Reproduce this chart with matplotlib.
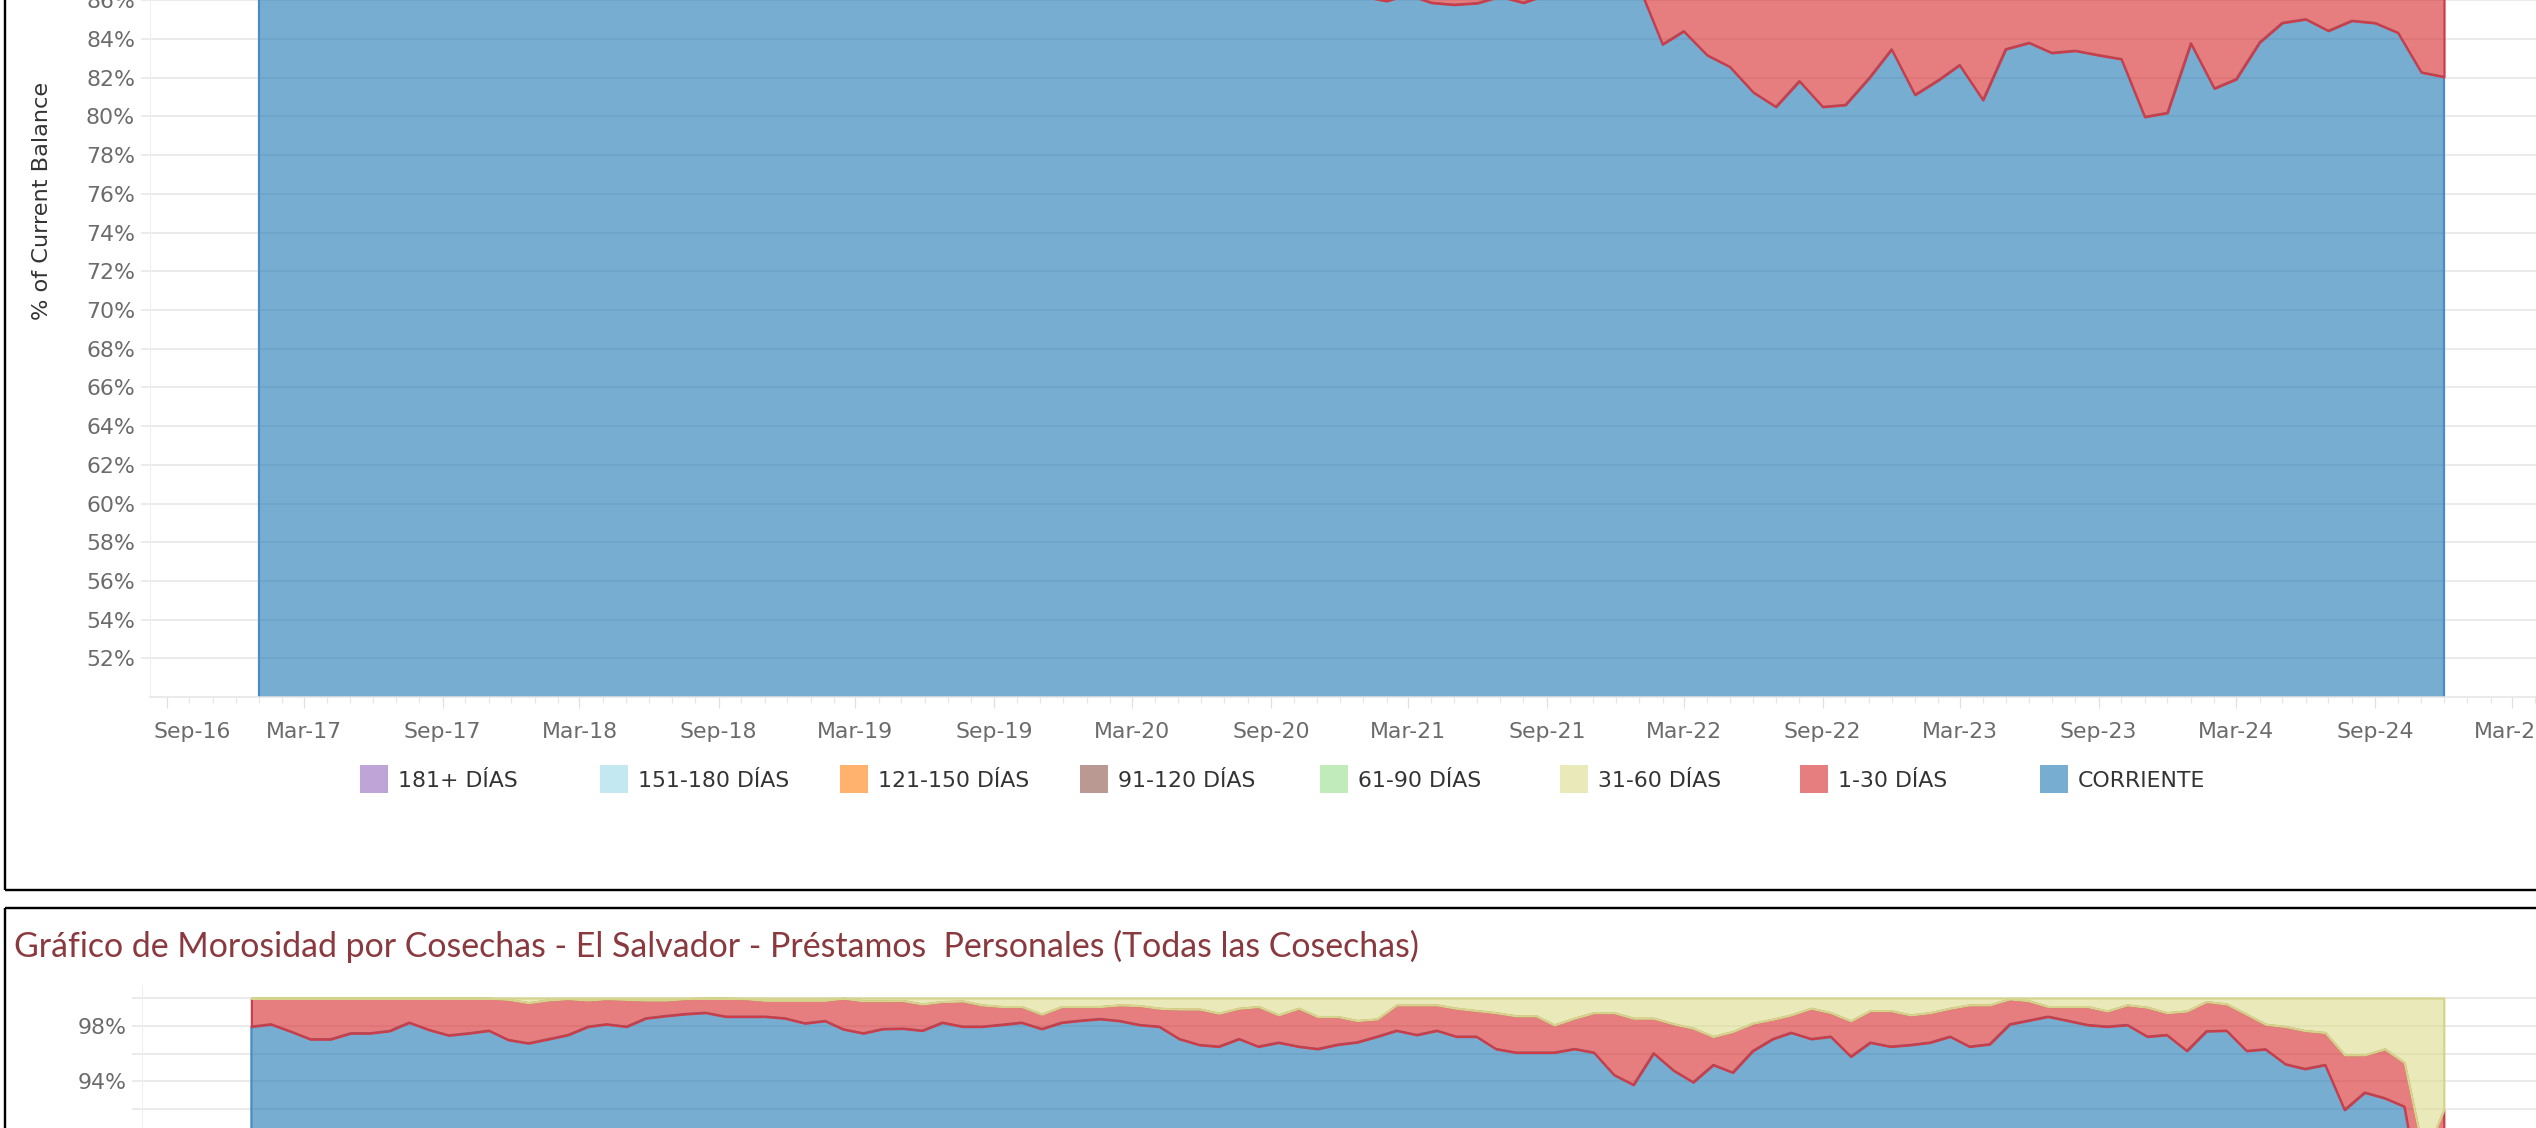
import datetime as dt
import numpy as np
import pandas as pd
import matplotlib
matplotlib.use('Agg')
import matplotlib.pyplot as plt
import matplotlib.dates as mdates
import matplotlib.ticker as mticker
from matplotlib.colors import to_rgb
from matplotlib.lines import Line2D
from matplotlib.patches import Rectangle

# ---------------------------------------------------------------- data
top_months = pd.date_range('2017-01-01', '2024-12-01', freq='MS')
top_corriente = [
    94.5, 94.1, 93.8, 93.2, 93.6, 92.9, 92.4, 92.8, 92.1, 91.6,
    91.9, 91.2, 90.8, 91.3, 90.6, 90.1, 90.5, 89.9, 89.4, 89.8,
    89.2, 88.9, 89.3, 88.7, 88.4, 88.8, 88.2, 87.9, 88.3, 87.7,
    87.4, 87.8, 87.2, 86.9, 87.3, 86.8, 86.6, 87.0, 86.5, 86.3,
    86.7, 86.4, 86.2, 86.6, 86.3, 86.2, 86.5, 86.3, 86.2, 85.97,
    86.3, 85.88, 85.78, 85.86, 86.2, 85.88, 86.3, 86.8, 87.2, 87.5,
    86.7, 83.73, 84.41, 83.17, 82.57, 81.25, 80.50, 81.83, 80.50, 80.60,
    81.97, 83.47, 81.12, 81.88, 82.66, 80.85, 83.48, 83.81, 83.29, 83.40,
    83.17, 82.97, 79.98, 80.19, 83.78, 81.45, 81.93, 83.83, 84.84, 85.03,
    84.43, 84.95, 84.83, 84.33, 82.28, 82.05]
top_1_30 = [
    4.1, 4.3, 4.5, 4.9, 4.6, 5.0, 5.3, 5.1, 5.6, 5.9,
    5.7, 6.1, 6.4, 6.0, 6.5, 6.8, 6.6, 7.0, 7.3, 7.1,
    7.5, 7.7, 7.4, 7.9, 8.1, 7.8, 8.3, 8.5, 8.2, 8.7,
    8.9, 8.6, 9.1, 9.3, 9.0, 9.4, 9.6, 9.3, 9.7, 9.9,
    9.6, 9.8, 10.0, 9.7, 9.9, 10.0, 9.8, 9.9, 10.1, 10.2,
    9.9, 10.3, 10.4, 10.3, 10.0, 10.3, 10.0, 9.7, 9.4, 9.2,
    10.1, 12.9, 12.3, 13.5, 14.0, 15.2, 15.9, 14.7, 15.9, 15.8,
    14.5, 13.1, 15.3, 14.6, 13.8, 15.6, 13.0, 12.7, 13.2, 13.1,
    13.3, 13.5, 16.3, 16.1, 12.8, 15.0, 14.5, 12.7, 11.8, 11.6,
    12.1, 11.6, 11.8, 12.3, 14.2, 14.4]

cos_months = pd.date_range('2015-09-01', '2024-12-01', freq='MS')
cos_corriente = [
    97.94, 98.11, 97.58, 97.03, 97.03, 97.46, 97.46, 97.63, 98.23, 97.70,
    97.31, 97.46, 97.65, 96.98, 96.74, 97.03, 97.34, 97.94, 98.11, 97.94,
    98.54, 98.71, 98.85, 98.94, 98.66, 98.66, 98.66, 98.54, 98.18, 98.35,
    97.75, 97.46, 97.77, 97.80,
    97.65, 98.23, 97.94, 97.94, 98.08, 98.23, 97.77, 98.23, 98.37, 98.49,
    98.35, 98.06, 97.94, 97.05, 96.62, 96.50, 97.05, 96.50, 96.79, 96.50,
    96.33, 96.64, 96.81, 97.22, 97.65, 97.34, 97.65, 97.22, 97.22, 96.33,
    96.07, 96.07, 96.07, 96.33, 96.07, 94.46, 93.74, 96.02, 94.77, 93.93,
    95.18,
    94.63, 96.19, 97.05, 97.50, 97.05, 97.22, 95.78, 96.79, 96.50, 96.62,
    96.79, 97.22, 96.50, 96.67, 98.11, 98.37, 98.66, 98.37, 98.06, 97.94,
    98.06, 97.22, 97.34, 96.19, 97.61, 97.65, 96.19, 96.31, 95.23, 94.89,
    95.18, 91.94, 93.19, 92.78, 92.18, 84.0, 83.5]
# share of balance that is current or at most 30 days past due
cos_hasta_30 = [
    99.98, 99.98, 99.98, 99.98, 99.98, 99.98, 99.98, 99.98, 99.98, 99.98,
    99.98, 99.98, 99.98, 99.90, 99.66, 99.85, 99.95, 99.85, 99.95, 99.90,
    99.85, 99.85, 99.95, 99.98, 99.98, 99.95, 99.83, 99.83, 99.83, 99.83,
    99.98, 99.80, 99.80, 99.81,
    99.57, 99.74, 99.78, 99.50, 99.38, 99.38, 98.83, 99.38, 99.38, 99.38,
    99.50, 99.45, 99.26, 99.20, 99.20, 98.90, 99.26, 99.38, 98.78, 99.26,
    98.66, 98.66, 98.37, 98.49, 99.50, 99.50, 99.50, 99.26, 99.09, 98.94,
    98.71, 98.71, 98.06, 98.54, 98.94, 98.94, 98.54, 98.54, 98.13, 97.82,
    97.22,
    97.58, 98.18, 98.47, 98.78, 99.26, 98.94, 98.35, 99.09, 99.09, 98.78,
    98.94, 99.26, 99.50, 99.50, 99.93, 99.81, 99.38, 99.38, 99.38, 99.06,
    99.50, 99.33, 98.94, 99.06, 99.74, 99.57, 98.83, 98.11, 97.94, 97.65,
    97.51, 95.90, 95.90, 96.33, 95.35, 88.50, 91.94]

bucket_labels = ['181+ DÍAS', '151-180 DÍAS', '121-150 DÍAS', '91-120 DÍAS',
                 '61-90 DÍAS', '31-60 DÍAS', '1-30 DÍAS', 'CORRIENTE']
bucket_colors = ['#9467bd', '#9edae5', '#ff7f0e', '#8c564b',
                 '#98df8a', '#dbdb8d', '#d62728', '#1f77b4']
bucket_edges = {'31-60 DÍAS': '#d4d48c', '1-30 DÍAS': '#cc3d48', 'CORRIENTE': '#4a8bc2'}

top_pct_ticks = list(range(52, 88, 2))          # labelled ticks that fall inside the picture
top_pct_grid_extra = list(range(88, 100, 2))    # gridlines above the crop
cos_pct_major = [98, 94]
cos_pct_minor = [100, 96, 92]

title_text = ('Gráfico de Morosidad por Cosechas - El Salvador - '
              'Préstamos  Personales (Todas las Cosechas)')
ylabel_text = '% of Current Balance'

# ---------------------------------------------------------------- style
W, H, DPI = 2536, 1128, 100
FILL_ALPHA = 0.6
GRID = '#ebebeb'
TICKLAB = '#6b6b6b'
FS = 15.8

plt.rcParams['font.family'] = ['DejaVu Sans']
fig = plt.figure(figsize=(W / DPI, H / DPI), dpi=DPI, facecolor='white')


def fx(px):
    return px / W


def fy(py):
    return 1 - py / H


def pt(px):
    return px * 72 / DPI


def fill(c, a=FILL_ALPHA):
    r, g, b = to_rgb(c)
    return (r, g, b, a)


color_of = dict(zip(bucket_labels, bucket_colors))


def band(ax, x, lo, hi, name):
    ax.fill_between(x, lo, hi, facecolor=fill(color_of[name]),
                    edgecolor=bucket_edges[name], linewidth=pt(2.2),
                    joinstyle='round', zorder=2)


pct_fmt = mticker.FuncFormatter(lambda v, p: f'{v:.0f}%')

# ---------------------------------------------------------------- top chart
x_t = mdates.date2num(top_months.to_pydatetime())
T_L, T_B, PPP_T = 150, 697, 19.35
t_top = T_B - 50 * PPP_T
ax1 = fig.add_axes([fx(T_L), fy(T_B), 1 - fx(T_L), (T_B - t_top) / H])
ax1.set_ylim(50, 100)
px0, px1 = 259, 2444
ppd = (px1 - px0) / (x_t[-1] - x_t[0])
ax1.set_xlim(x_t[0] - (px0 - T_L) / ppd, x_t[-1] + (W - px1) / ppd)

corr_t = np.array(top_corriente)
upto30_t = corr_t + np.array(top_1_30)
band(ax1, x_t, 0, corr_t, 'CORRIENTE')
band(ax1, x_t, corr_t, upto30_t, '1-30 DÍAS')

for s in ['top', 'right']:
    ax1.spines[s].set_visible(False)
ax1.spines['left'].set_color('#eeeeee')
ax1.spines['left'].set_linewidth(pt(1))
ax1.spines['bottom'].set_color('#e4e4e4')
ax1.spines['bottom'].set_linewidth(pt(1.5))
ax1.set_axisbelow(True)
ax1.set_yticks(top_pct_ticks)
ax1.set_yticks(top_pct_grid_extra, minor=True)
ax1.yaxis.set_major_formatter(pct_fmt)
ax1.yaxis.set_minor_formatter(mticker.NullFormatter())
ax1.yaxis.grid(True, which='both', color=GRID, linewidth=pt(2))
ax1.tick_params(axis='y', which='both', length=pt(9), width=pt(2), color=GRID,
                pad=pt(6), labelsize=FS, labelcolor=TICKLAB)

ax1.xaxis.set_major_locator(mdates.MonthLocator(bymonth=[3, 9]))
ax1.xaxis.set_minor_locator(mdates.MonthLocator())
first_tick = mdates.date2num(dt.datetime(2016, 9, 1))


def date_fmt(v, p):
    if abs(v - first_tick) < 1:
        return ''
    return mdates.num2date(v).strftime('%b-%y')


XPAD = 14
ax1.xaxis.set_major_formatter(mticker.FuncFormatter(date_fmt))
ax1.tick_params(axis='x', which='major', length=pt(11), width=pt(1.2),
                color='#e0e0e0', pad=pt(XPAD), labelsize=FS, labelcolor=TICKLAB)
ax1.tick_params(axis='x', which='minor', length=pt(6), width=pt(1.2), color='#e6e6e6')
# first label is nudged right by Tableau so it stays inside the pane
ax1.annotate('Sep-16', xy=(first_tick, 0), xycoords=('data', 'axes fraction'),
             xytext=(25, -(11 + XPAD)), textcoords='offset pixels',
             ha='center', va='top', fontsize=FS, color=TICKLAB)

ax1.set_ylabel(ylabel_text, fontsize=16.2, color='#333333')
ax1.yaxis.label.set_va('center')
ax1.yaxis.set_label_coords((42 - T_L) / (W - T_L), (T_B - 201) / (T_B - t_top))

# legend
for k, (lab, col) in enumerate(zip(bucket_labels, bucket_colors)):
    xl = 360 + 240 * k
    fig.add_artist(Rectangle((fx(xl), fy(793)), 28 / W, 28 / H,
                             transform=fig.transFigure, facecolor=fill(col),
                             edgecolor='none'))
    fig.text(fx(xl + 38), fy(787), lab, fontsize=FS, color='#333333',
             ha='left', va='baseline')

# panel borders
bkw = dict(color='black', linewidth=pt(2.4), transform=fig.transFigure,
           solid_capstyle='butt')
fig.add_artist(Line2D([fx(4.5), fx(4.5)], [fy(-5), fy(889.5)], **bkw))
fig.add_artist(Line2D([fx(4.5), fx(2545)], [fy(889.5), fy(889.5)], **bkw))
fig.add_artist(Line2D([fx(4.5), fx(2545)], [fy(908), fy(908)], **bkw))
fig.add_artist(Line2D([fx(4.5), fx(4.5)], [fy(908), fy(1140)], **bkw))

# ---------------------------------------------------------------- bottom chart
title = fig.text(fx(14), fy(957), title_text, fontsize=21,
                 family=['Lato', 'DejaVu Sans'], color='#8a3a3f',
                 ha='left', va='baseline')
fig.canvas.draw()
tw = title.get_window_extent().width
title.set_fontsize(21 * 1406 / tw)

x_s = mdates.date2num(cos_months.to_pydatetime())
S_L, S_TOP, S_100, PPP_S, S_BOT = 142, 985, 998, 13.875, 1414
ax2 = fig.add_axes([fx(S_L), fy(S_BOT), 1 - fx(S_L), (S_BOT - S_TOP) / H])
ax2.set_ylim(100 - (S_BOT - S_100) / PPP_S, 100 + (S_100 - S_TOP) / PPP_S)
sx0, sx1 = 251.4, 2443.8
ppd2 = (sx1 - sx0) / (x_s[-1] - x_s[0])
ax2.set_xlim(x_s[0] - (sx0 - S_L) / ppd2, x_s[-1] + (W - sx1) / ppd2)

cc = np.array(cos_corriente)
ch = np.array(cos_hasta_30)
band(ax2, x_s, 0, cc, 'CORRIENTE')
band(ax2, x_s, cc, ch, '1-30 DÍAS')
band(ax2, x_s, ch, 100, '31-60 DÍAS')

for s in ['top', 'right', 'bottom']:
    ax2.spines[s].set_visible(False)
ax2.spines['left'].set_color('#eeeeee')
ax2.spines['left'].set_linewidth(pt(1))
ax2.set_axisbelow(True)
ax2.set_yticks(cos_pct_major)
ax2.set_yticks(cos_pct_minor, minor=True)
ax2.yaxis.set_major_formatter(pct_fmt)
ax2.yaxis.set_minor_formatter(mticker.NullFormatter())
ax2.yaxis.grid(True, which='both', color=GRID, linewidth=pt(2))
ax2.tick_params(axis='y', which='both', length=pt(10), width=pt(2), color=GRID,
                pad=pt(5), labelsize=FS, labelcolor=TICKLAB)
ax2.tick_params(axis='x', which='both', bottom=False, labelbottom=False)

fig.savefig('out.png', dpi=DPI, facecolor='white')
